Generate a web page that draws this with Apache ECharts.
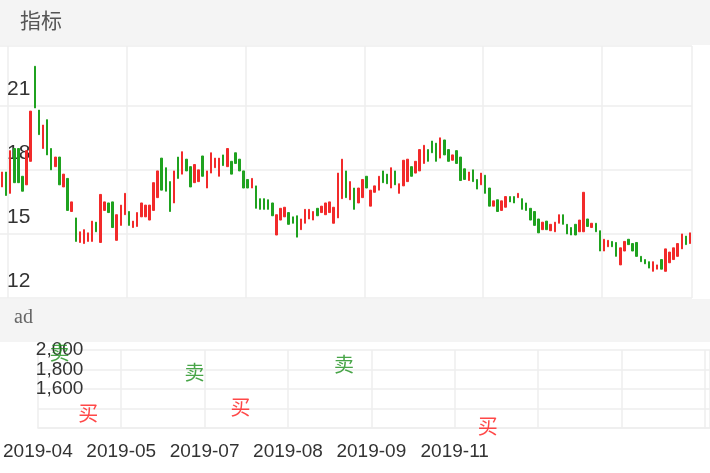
<!DOCTYPE html>
<html><head><meta charset="utf-8">
<script src="https://cdn.jsdelivr.net/npm/echarts@6/dist/echarts.min.js"></script>
<style>html,body{margin:0;padding:0;background:#fff}#c{width:710px;height:473px}</style>
</head><body><div id="c"></div>
<script>
// trading-day categories, 2019-04-01 .. 2019-12-06 (weekends and CN holidays skipped)
const holidays = ['2019-04-05','2019-05-01','2019-05-02','2019-05-03','2019-06-07','2019-09-13','2019-10-01','2019-10-02','2019-10-03','2019-10-04','2019-10-07'];
const dates = [];
(function(){ let d = new Date(Date.UTC(2019,3,1)); const end = Date.UTC(2019,11,6);
  while (d.getTime() <= end) { const s = d.toISOString().slice(0,10); const w = d.getUTCDay();
    if (w !== 0 && w !== 6 && holidays.indexOf(s) < 0) dates.push(s); d = new Date(d.getTime()+86400000); } })();

const openVals = [17.2,17.9,16.9,19.0,19.0,17.7,17.3,18.4,22.85,20.8,19.0,20.35,19.0,18.15,18.6,17.2,17.6,16.05,15.75,14.6,14.55,14.65,14.65,15.55,14.6,16.1,16.45,16.5,14.7,15.4,15.9,16.05,15.3,15.35,15.8,15.8,15.65,16.1,16.7,18.55,18.1,17.45,16.45,18.6,17.8,18.5,18.15,17.4,17.45,18.65,17.15,17.85,18.1,17.7,18.7,18.15,18.4,18.8,18.5,17.95,17.55,17.15,17.25,16.65,16.65,16.6,16.45,14.95,15.65,15.8,16.0,15.8,15.85,15.2,15.5,15.7,15.65,16.2,16.0,15.9,16.0,15.5,15.75,16.65,17.95,16.6,17.15,16.45,16.7,17.7,16.3,16.95,17.05,17.95,17.8,17.15,17.95,16.9,17.25,17.45,18.15,17.85,17.95,18.3,18.95,19.35,19.25,18.55,19.4,18.95,18.45,18.9,18.6,18.05,17.5,18.0,17.55,17.3,17.75,17.15,16.3,16.6,16.1,16.25,16.75,16.75,16.7,16.65,16.45,16.2,16.05,15.7,15.2,15.6,15.15,15.1,15.5,15.9,15.45,15.3,15.45,15.1,15.1,15.7,15.3,15.5,15.15,14.2,14.4,14.65,14.6,13.55,14.2,14.75,14.55,14.6,13.95,13.8,13.7,13.25,13.35,13.8,13.25,13.65,13.8,13.95,14.3,14.9,14.55];
const closeVals = [17.9,16.8,18.9,17.4,17.4,17.0,18.9,20.75,20.9,19.65,20.1,18.7,18.0,18.6,17.3,17.8,16.1,16.5,14.65,15.1,15.2,15.05,15.6,15.1,16.85,16.5,16.0,15.3,15.9,16.35,16.9,15.4,15.6,16.0,16.45,16.35,16.35,17.4,17.95,17.05,17.0,16.05,17.95,17.6,18.85,17.95,17.2,18.25,18.0,17.7,17.95,18.8,18.55,18.55,18.2,19.0,17.8,18.3,17.95,17.15,17.15,17.6,16.2,16.15,16.15,16.15,15.85,15.9,16.2,16.25,15.45,15.5,14.85,15.7,16.15,16.15,16.05,15.85,16.3,16.45,16.5,16.25,17.85,18.5,16.7,17.45,16.15,17.15,17.55,17.15,17.05,17.25,17.7,17.4,17.35,18.1,17.3,17.35,18.45,18.5,17.7,18.4,18.95,19.15,18.4,18.8,18.4,19.5,18.7,18.4,18.7,18.3,17.5,17.55,17.9,17.45,17.1,17.85,16.9,16.3,16.55,16.05,16.55,16.75,16.5,16.45,16.9,16.15,16.1,15.65,15.4,15.05,15.55,15.2,15.45,15.55,15.9,15.45,15.0,14.95,14.95,15.65,16.95,15.35,15.5,15.1,14.2,14.75,14.7,14.4,13.95,14.35,14.65,14.5,14.2,13.95,13.7,13.6,13.4,13.7,13.55,13.35,14.3,14.15,14.35,14.55,15.0,14.5,15.05];

const signalIndex = [9, 19, 56, 72, 108, 158];
const signalValue = [1975, 1345, 1775, 1415, 1855, 1220];
const signalText  = ['卖','买','卖','买','卖','买'];

const upColor = '#f22a2a', downColor = '#1fa21f';
const candles = openVals.map((o,i)=>{const c=closeVals[i];return [o,c,Math.min(o,c),Math.max(o,c)];});
// x = category centre (band i spans [i, i+1])
const signals = signalIndex.map((x,i)=>({value:[x+0.5,signalValue[i]],name:signalText[i],
  label:{color: signalText[i]==='买' ? '#ff1a1a' : '#1a8f1a'}}));

const lab = '"Liberation Sans",sans-serif';
const gridLine = {show:true,lineStyle:{color:'#eeeeee',width:1.5}};
const tickFn = (i)=> i % 29 === 2;

const chart = echarts.init(document.getElementById('c'));
chart.setOption({
  animation:false,
  graphic:[
    {type:'rect',shape:{x:0,y:0,width:710,height:45},style:{fill:'#f4f4f4'},z:-1},
    {type:'text',left:20,top:10,style:{text:'指标',fontSize:21,fill:'#555',fontFamily:'"Noto Sans CJK SC",sans-serif'}},
    {type:'rect',shape:{x:0,y:299,width:710,height:43},style:{fill:'#f4f4f4'},z:-1},
    {type:'text',left:14,top:308,style:{text:'ad',fontSize:20,fill:'#666',fontFamily:'"Liberation Serif",serif'}}
  ],
  grid:[
    {left:0,right:18,top:46,height:252},
    {left:7,right:0,top:350,height:78}
  ],
  xAxis:[
    {type:'category',gridIndex:0,data:dates,boundaryGap:true,
     axisLine:{show:false},axisTick:{show:false},axisLabel:{show:false},
     splitLine:Object.assign({interval:tickFn},gridLine)},
    {type:'value',gridIndex:1,min:2,max:235.8,interval:29,
     axisLine:{show:true,lineStyle:{color:'#eeeeee',width:1.5}},axisTick:{show:false},
     axisLabel:{fontSize:19,color:'#333',fontFamily:lab,margin:14,showMaxLabel:false,showMinLabel:true,
       formatter:(v)=> dates[Math.round(v)] ? dates[Math.round(v)].slice(0,7) : ''},
     splitLine:gridLine}
  ],
  yAxis:[
    {type:'value',gridIndex:0,min:12,max:23.8,interval:3,
     axisLine:{show:false},axisTick:{show:false},splitLine:gridLine,
     axisLabel:{inside:true,fontSize:21,color:'#333',fontFamily:lab,verticalAlign:'bottom',
       padding:[0,0,6,7],margin:0,showMaxLabel:false,showMinLabel:true}},
    {type:'value',gridIndex:1,min:1200,max:2000,interval:200,
     axisLine:{show:false},axisTick:{show:false},splitLine:gridLine,
     axisLabel:{inside:true,fontSize:19,color:'#333',fontFamily:lab,margin:-2,showMaxLabel:true,
       formatter:(v)=> v>=1600 ? v.toLocaleString('en-US') : ''}}
  ],
  series:[
    {type:'candlestick',xAxisIndex:0,yAxisIndex:0,data:candles,barWidth:2,
     itemStyle:{color:upColor,color0:downColor,borderColor:upColor,borderColor0:downColor,borderWidth:1}},
    {type:'scatter',xAxisIndex:1,yAxisIndex:1,data:signals,symbolSize:0,z:5,
     label:{show:true,position:'inside',formatter:(p)=>p.name,fontSize:20,
       fontFamily:'"Noto Sans CJK SC",sans-serif'}}
  ]
});
</script></body></html>
